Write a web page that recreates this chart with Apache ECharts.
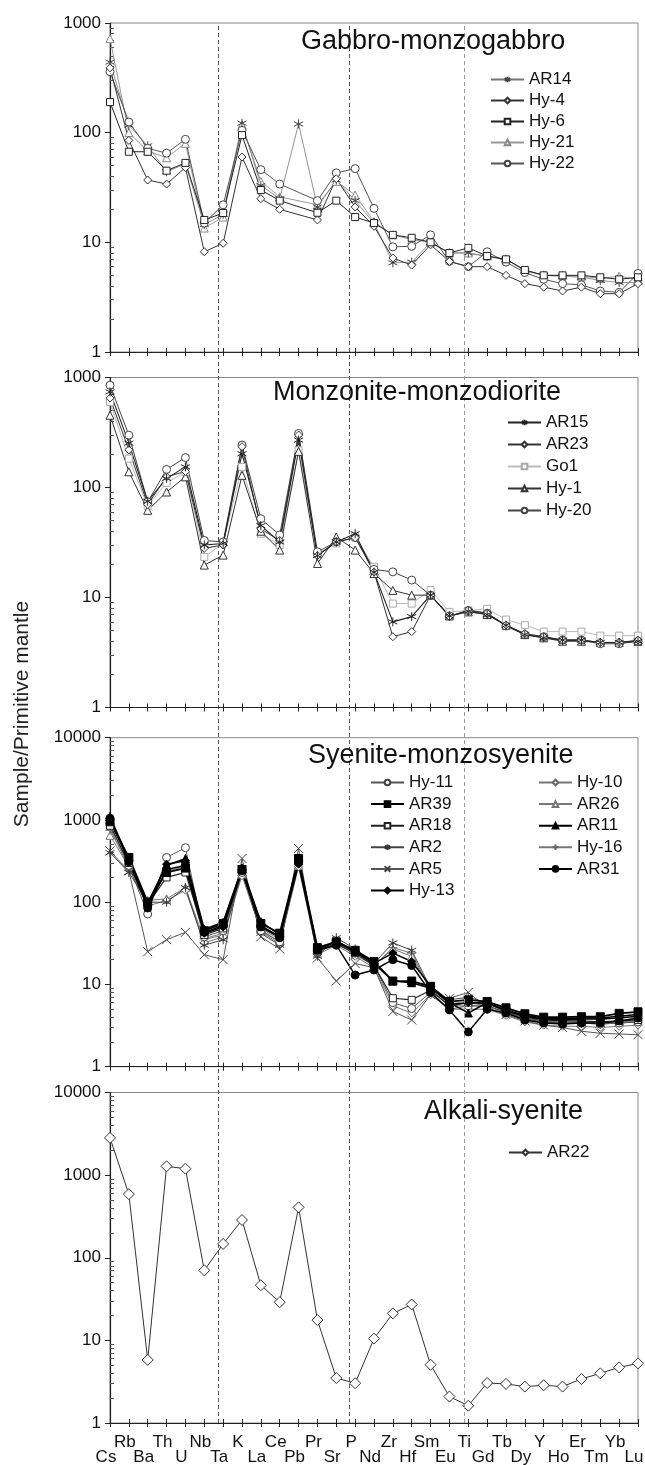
<!DOCTYPE html>
<html>
<head>
<meta charset="utf-8">
<script src="https://cdn.jsdelivr.net/npm/echarts@6/dist/echarts.min.js"></script>
<style>
html, body { margin: 0; padding: 0; background: #fff; }
#chart { width: 645px; height: 1465px; }
</style>
</head>
<body>
<div id="chart"></div>
<script>
// element order on the x axis
var elements = ['Cs','Rb','Ba','Th','U','Nb','Ta','K','La','Ce','Pb','Pr','Sr','P','Nd','Zr','Hf','Sm','Eu','Ti','Gd','Tb','Dy','Y','Ho','Er','Tm','Yb','Lu'];

// Gabbro-monzogabbro
var ar14 = [440,117,76,44,52,14.5,18,122,33,25,120,21,37,24,15,6.5,6.6,10,8,8,7.4,7,5.5,5,4.9,4.8,4.5,4.3,4.3];
var hy4  = [390,85,37,34,48,8.2,9.8,60,25,20,null,16,38,21,14,7.2,6.2,9.5,6.7,6,6,5,4.2,3.9,3.6,3.9,3.4,3.4,4.2];
var hy6  = [190,67,67,45,53,16,18.5,95,30,24,null,18.6,24,17,15,11.7,11,10,8,8.9,7.5,7,5.6,5,5,5,4.8,4.6,4.8];
var hy21 = [720,100,68,59,80,13.5,17,118,36,26,null,22,36,27,15.5,11.7,10.6,10,8,8,7.5,7,5.6,5,5,4.9,4.7,4.9,4.6];
var hy22 = [360,125,72,65,87,15,22,105,46,34,null,24,43,47,20.4,9.1,9.2,11.7,6.7,6,8.2,6.6,5.3,4.6,4.2,4.1,3.6,3.5,5.2];

// Monzonite-monzodiorite
var ar15 = [740,253,75,121,154,30,31,203,45,32,270,24,32,38,17,6,6.7,10.5,6.8,7.5,7,5.6,4.6,4.3,4.1,4.1,3.9,3.9,4];
var ar23 = [650,220,70,125,140,28,30,235,42,33,300,24,32,35,17,4.4,4.9,10.5,6.7,7.7,7.2,5.6,4.7,4.4,4.1,4.1,3.9,3.9,4.1];
var go1  = [600,183,68,110,139,23.4,31,154,38,30,218,25,31,36,19,8.8,8.8,11.7,7.4,7.6,7.9,6.3,5.6,4.9,4.9,4.9,4.5,4.5,4.5];
var hy1  = [454,139,62,91,125,19.7,24.3,129,40,27,213,20.4,35.5,27,16.5,11.6,10.5,10.5,6.8,7.4,7,5.6,4.6,4.3,4,4,3.9,3.9,4];
var hy20 = [851,299,74,146,187,33,32,243,52,37,310,26,32,35,18,17.1,14.4,10.5,6.8,7.6,7.2,5.5,4.6,4.4,4.1,4.1,3.8,3.8,4];

// Syenite-monzosyenite
var hy11 = [900,280,72,350,460,38,45,230,45,33,300,25,32,25,17,6,5.1,8,5,5.5,5.5,4.6,3.9,3.6,3.4,3.4,3.3,3.4,3.5];
var ar39 = [950,350,100,230,260,45,55,250,55,42,340,28,33,26,19,11,11,9.5,6.2,6.5,6.2,5.2,4.4,4,4,4.05,4.05,4.45,4.65];
var ar18 = [850,300,95,200,230,40,48,240,50,38,310,26,31,24,17,6.8,6.5,8.5,5.5,6,5.8,4.8,4,3.7,3.6,3.6,3.5,3.6,3.7];
var ar2  = [400,230,100,100,150,30,35,260,42,30,330,22,37,27,18,32,26,9,6.5,7,6,4.6,3.8,3.5,3.4,3.4,3.3,3.4,3.5];
var ar5  = [420,240,25,35,43,23,20,340,38,27,450,21,11,18,16,4.7,3.7,7.5,6.8,8,5.2,4.3,3.6,3.2,3,2.7,2.55,2.5,2.45];
var hy13 = [1000,320,92,290,320,42,50,240,52,38,290,26,34,25,18,24,19,9.5,5.8,6,6,4.8,4.1,3.8,3.7,3.8,3.8,3.9,4.1];
var hy10 = [800,260,90,105,140,32,38,210,44,31,270,23,30,22,16,5.5,4.5,7.5,5,5,5,4.2,3.5,3.2,3.1,3.1,3,3.1,3.2];
var ar26 = [650,270,105,110,150,35,40,220,46,33,280,24,32,23,17,27,22,8.5,5.5,5.5,5.4,4.5,3.8,3.5,3.4,3.5,3.4,3.6,3.8];
var ar11 = [1100,330,98,280,340,47,57,260,58,40,330,27,33,25,18,11,10.5,9,6,4.5,6,4.9,4.2,3.9,3.8,3.9,3.9,4.1,4.3];
var hy16 = [750,290,100,240,270,36,42,230,48,35,300,25,31,24,17,28,24,8.5,5.5,6,5.5,4.6,3.9,3.6,3.5,3.5,3.4,3.5,3.6];
var ar31 = [1050,310,85,250,280,43,52,250,50,37,320,26,30,13,15,20,17,8,4.9,2.65,5,4.5,3.7,3.4,3.3,3.4,3.4,3.6,3.9];

// Alkali-syenite
var ar22 = [2820,589,5.8,1277,1197,70.4,147,286,46.5,29,407,17.6,3.5,3.03,10.5,21.2,27.2,5.07,2.09,1.62,3.05,2.97,2.76,2.86,2.76,3.41,3.99,4.71,5.27];

// y-axis minor ticks (2..9 in each decade)
var minor3 = [2,3,4,5,6,7,8,9,20,30,40,50,60,70,80,90,200,300,400,500,600,700,800,900];
var minor4 = minor3.concat([2000,3000,4000,5000,6000,7000,8000,9000]);

// dashed separators, as fractional positions on the element axis
var dividers = [5.74, 12.69, 18.77];

var FONT = "'Liberation Sans', Arial, sans-serif";
var ASTER = 'path://M0,-5L0,5M-4.33,-2.5L4.33,2.5M-4.33,2.5L4.33,-2.5';
var CROSS = 'path://M-5,-5L5,5M-5,5L5,-5';
var PLUS = 'path://M0,-5L0,5M-5,0L5,0';

var panels = [
	{ top: 23,    height: 329,   max: 1000,  minor: minor3 },
	{ top: 377.5, height: 330,   max: 1000,  minor: minor3 },
	{ top: 737.7, height: 329,   max: 10000, minor: minor4 },
	{ top: 1092.5, height: 330.5, max: 10000, minor: minor4 }
];

var grids = [], xAxes = [], yAxes = [], series = [];

panels.forEach(function(p, gi) {
	grids.push({ left: 110, width: 528, top: p.top, height: p.height,
		containLabel: false, outerBoundsMode: 'none',
		show: true, borderColor: '#888', borderWidth: 1 });
	xAxes.push({
		type: 'category', data: elements, boundaryGap: false, gridIndex: gi, position: 'bottom',
		axisLine: { lineStyle: { color: '#222', width: 1.2 } },
		axisTick: { interval: 0, length: 4, lineStyle: { color: '#222' } },
		axisLabel: gi === 3 ? {
			interval: 0, margin: 12, fontSize: 17, lineHeight: 15, color: '#111',
			fontFamily: FONT, padding: [0, 8, 0, 0],
			formatter: function(v, i) { return i % 2 ? v + '\n' : '\n' + v; }
		} : { show: false },
		splitLine: { show: false }
	});
	xAxes.push({
		type: 'category', data: elements, boundaryGap: false, gridIndex: gi, position: 'bottom',
		axisLine: { show: false },
		axisTick: { interval: 0, inside: true, length: 4, lineStyle: { color: '#222' } },
		axisLabel: { show: false }, splitLine: { show: false }
	});
	yAxes.push({
		type: 'log', logBase: 10, min: 1, max: p.max, gridIndex: gi, position: 'left',
		axisLine: { show: true, lineStyle: { color: '#222', width: 1.2 } },
		axisTick: { show: true, length: 5, lineStyle: { color: '#222' } },
		axisLabel: { fontSize: 17, color: '#111', margin: 9, fontFamily: FONT,
			formatter: function(v) { return String(Math.round(v)); } },
		splitLine: { show: false }
	});
	yAxes.push({
		type: 'log', logBase: 10, min: 1, max: p.max, gridIndex: gi, position: 'left',
		axisLine: { show: false },
		axisTick: { show: true, inside: true, length: 4, customValues: p.minor, lineStyle: { color: '#555' } },
		axisLabel: { show: false }, splitLine: { show: false }
	});
});

// overlay grid for the dashed lines through all four panels
grids.push({ left: 110, width: 528, top: 23, height: 1400, containLabel: false, outerBoundsMode: 'none' });
xAxes.push({ type: 'value', min: 0, max: 28, gridIndex: 4, show: false });
yAxes.push({ type: 'value', min: 0, max: 1, gridIndex: 4, show: false });
series.push({
	type: 'line', xAxisIndex: 8, yAxisIndex: 8, data: [], z: 1, silent: true,
	markLine: {
		silent: true, symbol: 'none', label: { show: false },
		data: dividers.map(function(d, i) {
			return { xAxis: d, lineStyle: { type: [4, 3], width: 1, color: i === 2 ? '#999' : '#555' } };
		})
	}
});

function addLine(gi, name, data, symbol, size, fill, stroke, lineColor, lw) {
	series.push({
		name: name, type: 'line', data: data, xAxisIndex: gi * 2, yAxisIndex: gi * 2,
		symbol: symbol, symbolSize: size, showAllSymbol: true, connectNulls: true, z: 3,
		lineStyle: { color: lineColor, width: lw },
		itemStyle: { color: fill, borderColor: stroke, borderWidth: 1 },
		emphasis: { disabled: true }
	});
}

addLine(0, 'Hy-21', hy21, 'triangle', 8, '#fff', '#888', '#999', 1);
addLine(0, 'AR14', ar14, ASTER, 9, '#fff', '#444', '#777', 0.8);
addLine(0, 'Hy-22', hy22, 'circle', 8, '#fff', '#444', '#555', 1);
addLine(0, 'Hy-4', hy4, 'diamond', 8, '#fff', '#333', '#333', 1);
addLine(0, 'Hy-6', hy6, 'rect', 7, '#fff', '#222', '#222', 1);

addLine(1, 'Go1', go1, 'rect', 7, '#fff', '#aaa', '#bbb', 1);
addLine(1, 'Hy-1', hy1, 'triangle', 8, '#fff', '#333', '#333', 1);
addLine(1, 'Hy-20', hy20, 'circle', 8, '#fff', '#444', '#444', 1);
addLine(1, 'AR23', ar23, 'diamond', 8, '#fff', '#333', '#333', 1);
addLine(1, 'AR15', ar15, ASTER, 9, '#fff', '#222', '#222', 1.1);

addLine(2, 'AR26', ar26, 'triangle', 8, '#fff', '#777', '#777', 1);
addLine(2, 'Hy-10', hy10, 'diamond', 8, '#fff', '#666', '#777', 1);
addLine(2, 'Hy-16', hy16, PLUS, 9, '#fff', '#666', '#777', 1);
addLine(2, 'AR5', ar5, CROSS, 9, '#fff', '#444', '#555', 1);
addLine(2, 'AR2', ar2, ASTER, 9, '#fff', '#333', '#444', 1);
addLine(2, 'Hy-11', hy11, 'circle', 8, '#fff', '#444', '#555', 1);
addLine(2, 'AR18', ar18, 'rect', 7, '#fff', '#222', '#222', 1.2);
addLine(2, 'AR31', ar31, 'circle', 8, '#000', '#000', '#000', 1.5);
addLine(2, 'AR11', ar11, 'triangle', 8, '#000', '#000', '#000', 1.5);
addLine(2, 'Hy-13', hy13, 'diamond', 8, '#000', '#000', '#000', 1.5);
addLine(2, 'AR39', ar39, 'rect', 8, '#000', '#000', '#000', 1.8);

addLine(3, 'AR22', ar22, 'diamond', 11, '#fff', '#333', '#333', 1);

function legendAt(names, left, top, gap) {
	return {
		data: names, orient: 'vertical', left: left, top: top, padding: 0,
		itemWidth: 33, itemHeight: 7, itemGap: gap, selectedMode: false,
		textStyle: { fontSize: 17, color: '#111', fontFamily: FONT }
	};
}

function titleAt(text, left, top) {
	return { text: text, left: left, top: top, padding: 0,
		textStyle: { fontSize: 27, fontWeight: 'normal', color: '#111', fontFamily: FONT } };
}

var chart = echarts.init(document.getElementById('chart'));
chart.setOption({
	animation: false,
	backgroundColor: '#fff',
	textStyle: { fontFamily: FONT },
	title: [
		titleAt('Gabbro-monzogabbro', 301, 28),
		titleAt('Monzonite-monzodiorite', 273, 379),
		titleAt('Syenite-monzosyenite', 308, 742),
		titleAt('Alkali-syenite', 424, 1098)
	],
	legend: [
		legendAt(['AR14', 'Hy-4', 'Hy-6', 'Hy-21', 'Hy-22'], 490, 71, 4),
		legendAt(['AR15', 'AR23', 'Go1', 'Hy-1', 'Hy-20'], 507, 414, 5),
		legendAt(['Hy-11', 'AR39', 'AR18', 'AR2', 'AR5', 'Hy-13'], 370, 774, 4.6),
		legendAt(['Hy-10', 'AR26', 'AR11', 'Hy-16', 'AR31'], 538, 774, 4.6),
		legendAt(['AR22'], 508, 1144, 4)
	],
	graphic: [{
		type: 'text', x: 22, y: 714, rotation: Math.PI / 2,
		style: { text: 'Sample/Primitive mantle', font: "21px 'Liberation Sans', Arial, sans-serif",
			fill: '#222', textAlign: 'center', textVerticalAlign: 'middle' }
	}],
	grid: grids,
	xAxis: xAxes,
	yAxis: yAxes,
	series: series
});
</script>
</body>
</html>
